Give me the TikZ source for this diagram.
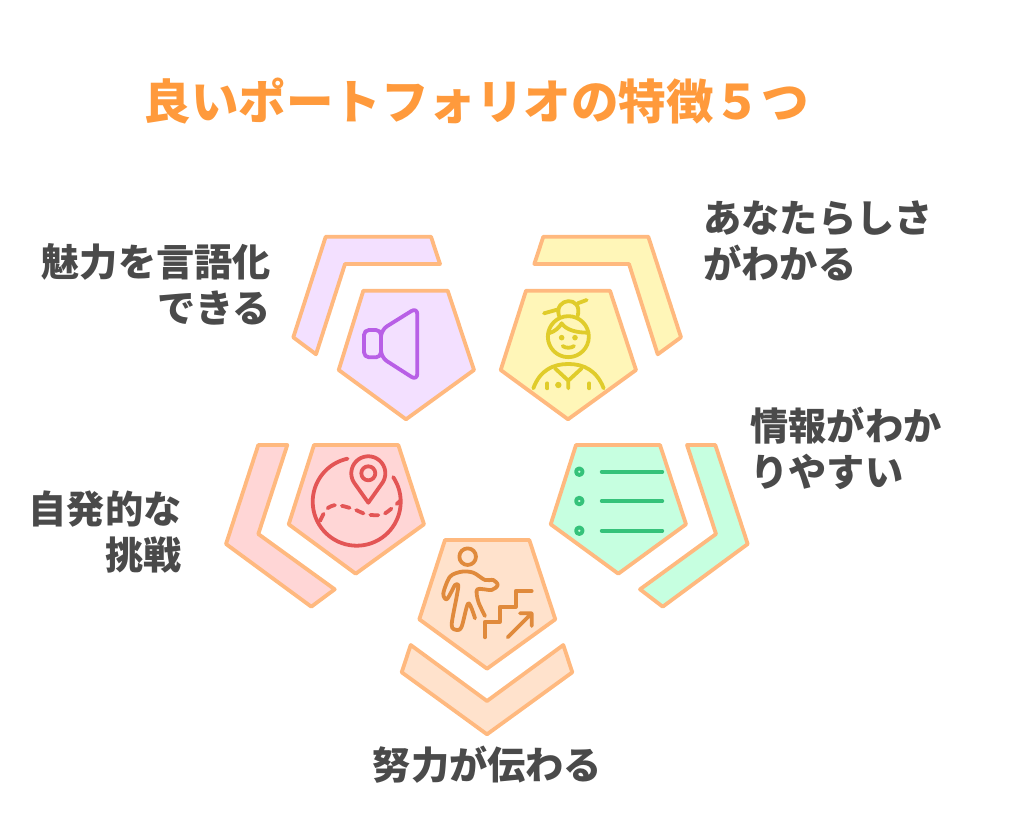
\documentclass[tikz,border=0pt]{standalone}
\usepackage{fontspec}
\usepackage{xcolor}
\newfontfamily\cjk{Noto Sans CJK JP}

\definecolor{edgeorange}{HTML}{FFB97F}
\definecolor{titleorange}{HTML}{FF9A3C}
\definecolor{labelgray}{HTML}{4A4A4A}
\definecolor{fillpurple}{HTML}{F3E0FF}
\definecolor{fillyellow}{HTML}{FFF6B8}
\definecolor{fillred}{HTML}{FFD6D6}
\definecolor{fillgreen}{HTML}{C6FFE0}
\definecolor{fillorange}{HTML}{FFE2CC}
\definecolor{iconpurple}{HTML}{B85FE6}
\definecolor{iconyellow}{HTML}{E0CC2A}
\definecolor{iconred}{HTML}{E35555}
\definecolor{icongreen}{HTML}{35C27A}
\definecolor{iconorange}{HTML}{E08A3C}

\tikzset{
  piece/.style={draw=edgeorange, line width=3.8pt, line join=round},
  icon/.style={line width=3.8pt, line cap=round, line join=round},
  label/.style={text=labelgray, font=\cjk\bfseries\fontsize{38.2}{46}\selectfont},
}

\begin{document}
\begin{tikzpicture}[x=1pt, y=-1pt]
\useasboundingbox (0,0) rectangle (1024,817);

% title
\node[text=titleorange, font=\cjk\bfseries\fontsize{47.5}{56}\selectfont] (title) at (476,101) {良いポートフォリオの特徴５つ};

% purple piece
\draw[piece, fill=fillpurple] (363.3,290.7) -- (447.7,290.7) -- (474,370) -- (406,419.3) -- (338.7,370) -- cycle;
\draw[piece, fill=fillpurple] (325.7,236.7) -- (431,236.7) -- (440,264) -- (345,264) -- (316,354.3) -- (293.3,337.3) -- cycle;
\begin{scope}[shift={(280,220)}, x=0.3333pt, y=-0.3333pt]
  \draw[icon, iconpurple, rounded corners=5pt] (303,330) rectangle (252,412);
  \draw[icon, iconpurple, rounded corners=7pt] (303,330) -- (412,262) -- (412,482) -- (303,412) -- cycle;
\end{scope}

% yellow piece
\draw[piece, fill=fillyellow] (526,290.7) -- (610,290.7) -- (636,370) -- (568,419.3) -- (500.7,370) -- cycle;
\draw[piece, fill=fillyellow] (543.3,236.7) -- (648.3,236.7) -- (681,337.3) -- (657.7,354.3) -- (629,264) -- (534.3,264) -- cycle;
\begin{scope}[shift={(490,220)}, x=0.3333pt, y=-0.3333pt]
  \draw[icon, iconyellow] (235,350) circle (20.5pt);
  \draw[icon, iconyellow] (207,288) .. controls (190,232) and (280,225) .. (263,288);
  \draw[icon, iconyellow] (162,280) -- (205,268) (263,250) -- (290,240);
  \draw[icon, iconyellow] (176,340) .. controls (195,335) and (208,322) .. (215,310) .. controls (228,330) and (260,338) .. (292,338);
  \fill[iconyellow] (215,353) circle (2.8pt) (255,353) circle (2.8pt) (205,495) circle (3.2pt);
  \draw[icon, iconyellow] (218,378) .. controls (226,385) and (244,385) .. (252,378);
  \draw[icon, iconyellow] (130,505) .. controls (150,450) and (190,432) .. (235,432) .. controls (280,432) and (320,450) .. (341,505);
  \draw[icon, iconyellow] (195,445) -- (235,482) -- (275,445) (235,482) -- (235,505);
  \draw[icon, iconyellow] (172,490) -- (172,505) (298,490) -- (298,505);
\end{scope}

% red piece
\draw[piece, fill=fillred] (314,445) -- (398.3,445) -- (424,524.3) -- (355.7,573.7) -- (288.7,524.3) -- cycle;
\draw[piece, fill=fillred] (258.3,445) -- (287.3,445) -- (258.3,534) -- (334.7,589.3) -- (311.3,606.7) -- (226,544) -- cycle;
\draw[icon, iconred] plot[smooth, domain=102:394, samples=60] ({356.7+44*cos(\x)}, {501.7-44*sin(\x)});
\draw[icon, iconred] (368.3,502.7) -- plot[smooth, domain=-36:216, samples=40] ({368.3+17*cos(\x)}, {473.3-17*sin(\x)}) -- cycle;
\draw[icon, iconred] (368.3,473.3) circle (7pt);
\draw[icon, iconred, dash pattern=on 8pt off 7pt] plot[smooth] coordinates {(320,521) (326.7,509) (336.7,505) (353.3,509) (366.7,514.3) (383.3,514.3) (400,501)};

% green piece
\draw[piece, fill=fillgreen] (576,445) -- (660,445) -- (686,524.3) -- (618.3,573.7) -- (550.7,524.3) -- cycle;
\draw[piece, fill=fillgreen] (687,445) -- (715.3,445) -- (747.7,544) -- (662.7,606.7) -- (640,589.3) -- (716,534) -- cycle;
\foreach \y in {471.7,501,530.7} {
    \draw[icon, icongreen] (579.3,\y) circle (3.3pt);
    \draw[icon, icongreen] (601.7,\y) -- (662.3,\y);
}

% orange piece
\draw[piece, fill=fillorange] (445,540) -- (529.3,540) -- (555.3,619.3) -- (487,668.7) -- (419.3,619.3) -- cycle;
\draw[piece, fill=fillorange] (410.7,645) -- (487,701) -- (563.3,645) -- (572.3,672.3) -- (487,734.3) -- (401.7,672.3) -- cycle;
\begin{scope}[shift={(395,530)}, x=0.3333pt, y=-0.3333pt]
  \draw[icon, iconorange] (218,80) circle (8.3pt);
  \draw[icon, iconorange] plot[smooth] coordinates {(270,258) (250,215) (247,178) (290,180) (308,165) (295,150) (270,150) (235,128) (200,125) (165,140) (145,190) (155,208) (172,180) (180,165) (190,165) (185,200) (170,285) (185,300) (200,290) (220,220) (240,265)};
  \draw[icon, iconorange] (270,322) -- (270,275) -- (315,275) -- (315,230) -- (362,230) -- (362,183) -- (410,183);
  \draw[icon, iconorange] (338,322) -- (410,250) (375,250) -- (410,250) -- (410,288);
\end{scope}

% labels
\node[label, anchor=east, align=right] (speak) at (274.5,284) {魅力を言語化\\できる};
\node[label, anchor=west, align=left] (you) at (700,241) {あなたらしさ\\がわかる};
\node[label, anchor=west, align=left] (info) at (747,448) {情報がわか\\りやすい};
\node[label, anchor=east, align=right] (self) at (185,532) {自発的な\\挑戦};
\node[label] (effort) at (487.5,765) {努力が伝わる};

\end{tikzpicture}
\end{document}
